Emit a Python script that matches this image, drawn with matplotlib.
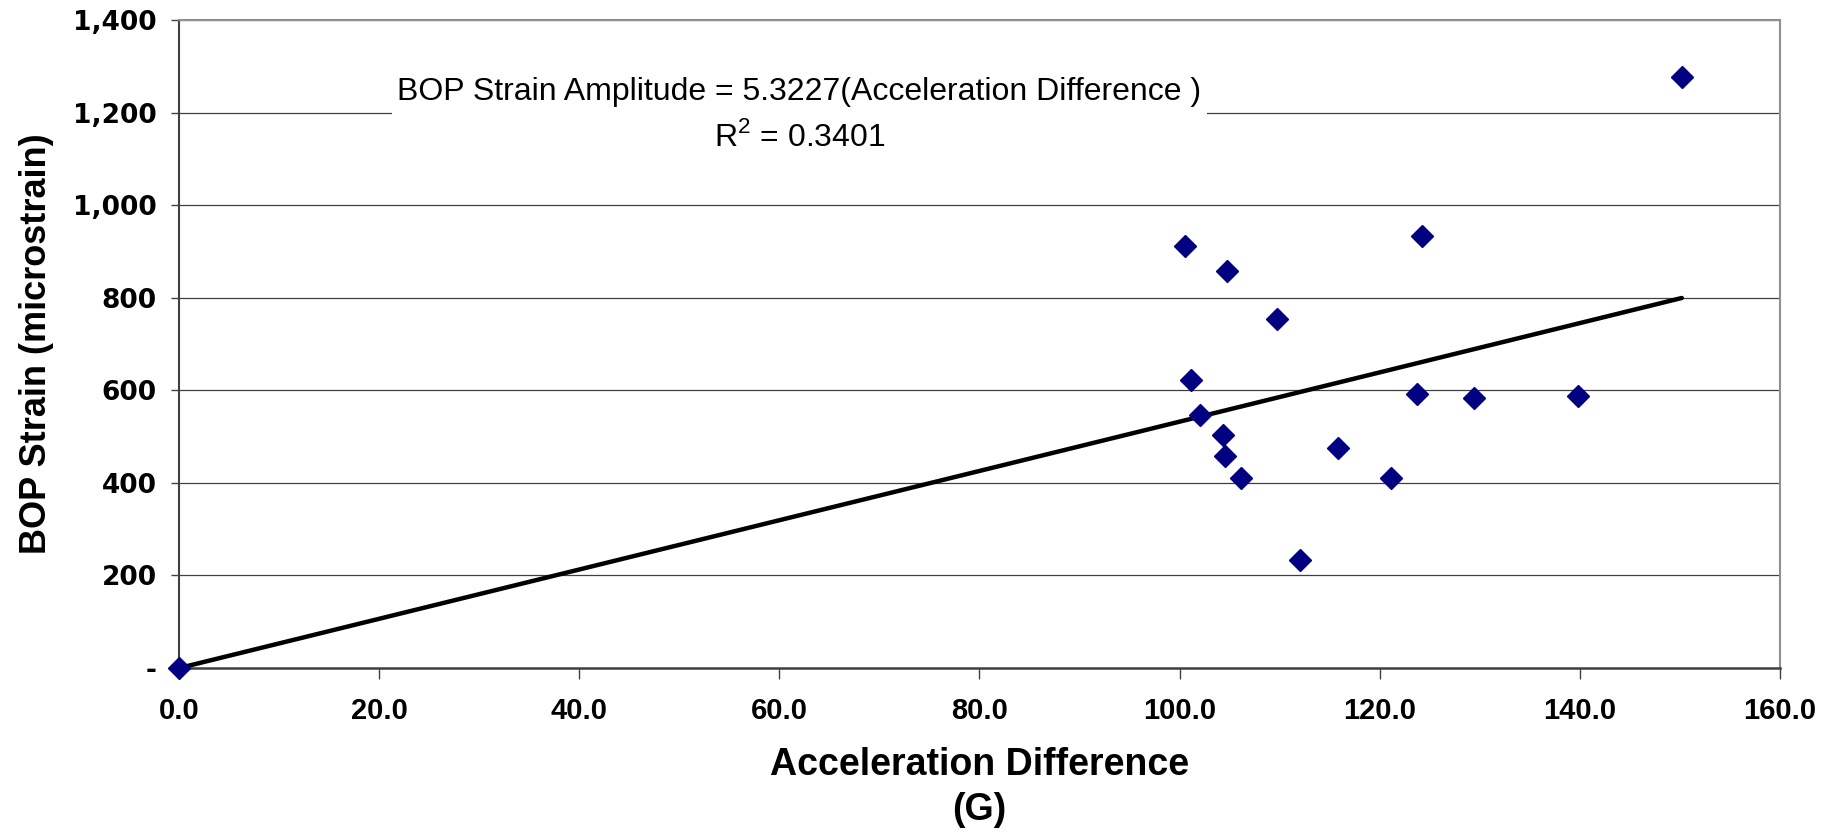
import matplotlib
matplotlib.use('Agg')
import matplotlib.pyplot as plt
from matplotlib.ticker import FixedLocator, FixedFormatter

# data
accel_diff = [0.0, 150.2, 100.5, 104.7, 124.2, 109.7, 101.1, 102.0, 104.3, 104.5,
              106.1, 115.8, 121.1, 123.7, 129.4, 139.8, 112.0]
bop_strain = [0, 1276, 911, 857, 934, 753, 622, 547, 504, 458,
              410, 476, 410, 592, 583, 588, 233]

slope = 5.3227
r_squared = 0.3401

x_ticks = [0, 20, 40, 60, 80, 100, 120, 140, 160]
x_tick_labels = ["0.0", "20.0", "40.0", "60.0", "80.0", "100.0", "120.0", "140.0", "160.0"]
y_ticks = [0, 200, 400, 600, 800, 1000, 1200, 1400]
y_tick_labels = ["-", "200", "400", "600", "800", "1,000", "1,200", "1,400"]

plt.rcParams['font.family'] = ['Liberation Sans', 'DejaVu Sans']
plt.rcParams['mathtext.fontset'] = 'custom'
plt.rcParams['mathtext.rm'] = 'Liberation Sans'

fig = plt.figure(figsize=(18.33, 8.33), dpi=100)
ax = fig.add_axes([0.0977, 0.198, 0.8733, 0.778])

ax.set_xlim(0, 160)
ax.set_ylim(0, 1400)

# gridlines
for yv in y_ticks[1:]:
    ax.axhline(yv, color='#404040', lw=0.9, zorder=1)

# trendline through origin
x_max = max(accel_diff)
ax.plot([0, x_max], [0, slope * x_max], color='black', lw=3.2, zorder=3,
        solid_capstyle='round')

ax.plot(accel_diff, bop_strain, linestyle='none', marker='D', ms=11.5,
        color='#000080', markeredgecolor='#000080', zorder=4, clip_on=False)

ax.text(62.0, 1195,
        "BOP Strain Amplitude = %.4f(Acceleration Difference )\nR$^2$ = %.4f" % (slope, r_squared),
        ha='center', va='center', fontsize=23, linespacing=1.55,
        bbox=dict(facecolor='white', edgecolor='none', pad=4), zorder=2)

ax.xaxis.set_major_locator(FixedLocator(x_ticks))
ax.xaxis.set_major_formatter(FixedFormatter(x_tick_labels))
ax.yaxis.set_major_locator(FixedLocator(y_ticks))
ax.yaxis.set_major_formatter(FixedFormatter(y_tick_labels))

ax.tick_params(axis='x', direction='out', length=8, width=1, color='#404040', pad=13)
ax.tick_params(axis='y', direction='out', length=6, width=1, color='#404040', pad=10)
for lab in ax.get_xticklabels():
    lab.set_fontweight('bold')
    lab.set_fontsize(21)
for lab in ax.get_yticklabels():
    lab.set_family('DejaVu Sans')
    lab.set_fontweight('bold')
    lab.set_fontsize(19)

ax.spines['left'].set_color('#404040')
ax.spines['left'].set_linewidth(1.5)
ax.spines['bottom'].set_color('#404040')
ax.spines['bottom'].set_linewidth(1.8)
ax.spines['top'].set_color('#909090')
ax.spines['top'].set_linewidth(1.5)
ax.spines['right'].set_color('#909090')
ax.spines['right'].set_linewidth(1.5)

ax.set_xlabel("Acceleration Difference\n(G)", fontsize=27, fontweight='bold',
              linespacing=1.3)
ax.xaxis.set_label_coords(0.5, -0.122)
ax.set_ylabel("BOP Strain (microstrain)", fontsize=26, fontweight='bold')
ax.yaxis.set_label_coords(-0.078, 0.5)

fig.savefig("out.png", dpi=100)
plt.close(fig)
